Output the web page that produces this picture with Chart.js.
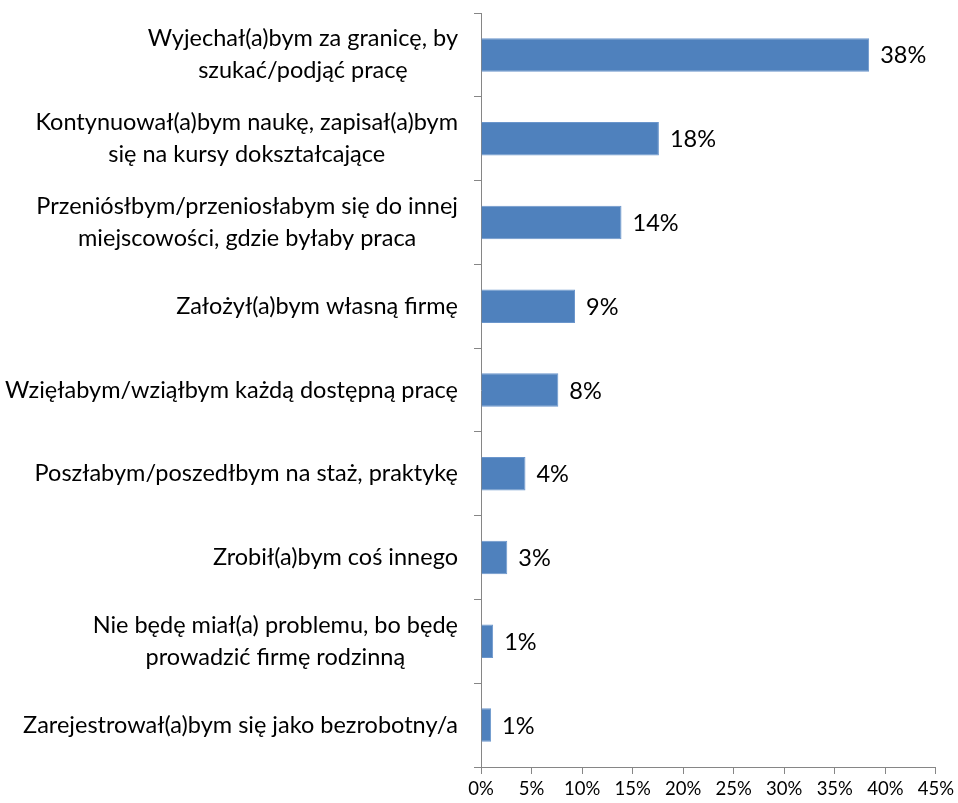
<!DOCTYPE html>
<html>
<head>
<meta charset="utf-8">
<script src="https://cdn.jsdelivr.net/npm/chart.js@4/dist/chart.umd.min.js"></script>
<style>
  html, body { margin: 0; padding: 0; background: #fff; }
  #wrap { width: 958px; height: 803px; }
</style>
</head>
<body>
<div id="wrap"><canvas id="chart"></canvas></div>
<script>
// kategorie (odpowiedzi)
const categories = [
    ['Wyjechał(a)bym za granicę, by', 'szukać/podjąć pracę'],
    ['Kontynuował(a)bym naukę, zapisał(a)bym', 'się na kursy dokształcające'],
    ['Przeniósłbym/przeniosłabym się do innej', 'miejscowości, gdzie byłaby praca'],
    'Założył(a)bym własną firmę',
    'Wzięłabym/wziąłbym każdą dostępną pracę',
    'Poszłabym/poszedłbym na staż, praktykę',
    'Zrobił(a)bym coś innego',
    ['Nie będę miał(a) problemu, bo będę', 'prowadzić firmę rodzinną'],
    'Zarejestrował(a)bym się jako bezrobotny/a'
];

// wartości w procentach
const values = [38.4, 17.6, 13.9, 9.3, 7.65, 4.4, 2.6, 1.2, 1.0];

// oś X: 0% - 45% co 5%
const xMin = 0;
const xMax = 45;
const xStep = 5;

const labelFont = '23.5px Lato, "Noto Sans", sans-serif';

// etykiety osi Y: linie wyśrodkowane w bloku, blok wyrównany do prawej
const yLabelsPlugin = {
    id: 'yLabels',
    afterDraw(chart) {
        const ctx = chart.ctx;
        const yScale = chart.scales.y;
        const right = chart.chartArea.left - 23;
        const lineH = 32;
        ctx.save();
        ctx.font = labelFont;
        ctx.fillStyle = '#000';
        ctx.textAlign = 'center';
        ctx.textBaseline = 'middle';
        categories.forEach((cat, i) => {
            const lines = Array.isArray(cat) ? cat : [cat];
            const widest = Math.max(...lines.map(l => ctx.measureText(l).width));
            const cx = right - widest / 2;
            const cy = yScale.getPixelForValue(i);
            lines.forEach((l, j) => {
                ctx.fillText(l, cx, cy + (j - (lines.length - 1) / 2) * lineH);
            });
        });
        ctx.restore();
    }
};

// etykiety wartości przy słupkach
const valueLabelsPlugin = {
    id: 'valueLabels',
    afterDatasetsDraw(chart) {
        const ctx = chart.ctx;
        const meta = chart.getDatasetMeta(0);
        ctx.save();
        ctx.font = labelFont;
        ctx.fillStyle = '#000';
        ctx.textAlign = 'left';
        ctx.textBaseline = 'middle';
        meta.data.forEach((bar, i) => {
            ctx.fillText(Math.round(values[i]) + '%', bar.x + 11, bar.y + 1);
        });
        ctx.restore();
    }
};

new Chart(document.getElementById('chart').getContext('2d'), {
    type: 'bar',
    data: {
        labels: categories,
        datasets: [{
            data: values,
            backgroundColor: '#4F81BD',
            borderColor: '#6b96cc',
            borderWidth: 1,
            borderSkipped: 'left',
            categoryPercentage: 1,
            barPercentage: 0.4
        }]
    },
    options: {
        indexAxis: 'y',
        responsive: true,
        maintainAspectRatio: false,
        animation: false,
        layout: { padding: { top: 13, right: 21, left: 0, bottom: 0 } },
        plugins: {
            legend: { display: false },
            tooltip: { enabled: false }
        },
        scales: {
            x: {
                min: xMin,
                max: xMax,
                border: { color: '#868686', width: 1 },
                grid: {
                    drawOnChartArea: false,
                    drawTicks: true,
                    tickLength: 7,
                    color: '#868686'
                },
                ticks: {
                    stepSize: xStep,
                    padding: 4,
                    color: '#000',
                    font: { family: 'Lato, "Noto Sans", sans-serif', size: 18.5 },
                    callback: v => v + '%'
                },
                afterFit: s => { s.height = 36; }
            },
            y: {
                border: { color: '#868686', width: 1 },
                grid: {
                    offset: true,
                    drawOnChartArea: false,
                    drawTicks: true,
                    tickLength: 7,
                    color: '#868686'
                },
                ticks: { display: false },
                afterFit: s => { s.width = 481; }
            }
        }
    },
    plugins: [yLabelsPlugin, valueLabelsPlugin]
});
</script>
</body>
</html>
